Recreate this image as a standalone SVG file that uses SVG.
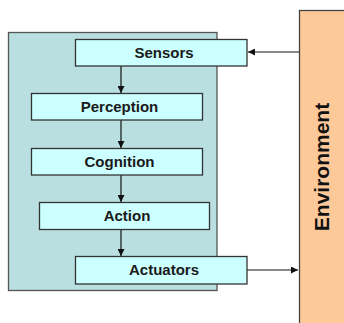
<svg xmlns="http://www.w3.org/2000/svg" width="344" height="323" viewBox="0 0 344 323">
<defs>
<style>
.node rect{fill:#ccffff;stroke:#333;stroke-width:1.3}
.node text{font-family:"Liberation Sans",Arial,sans-serif;font-weight:bold;font-size:15px;fill:#1a1a1a;text-anchor:middle}
.conn line{stroke:#111;stroke-width:1.2;fill:none}
</style>
<marker id="ah" viewBox="0 0 10 10" refX="10" refY="5" markerWidth="7" markerHeight="7" markerUnits="userSpaceOnUse" orient="auto">
<path d="M0,0 L10,5 L0,10 z" fill="#111"/>
</marker>
</defs>
<rect width="344" height="323" fill="#fff"/>
<g id="agent"><rect x="8.5" y="32.5" width="208.5" height="258" fill="#b9dfe0" stroke="#555" stroke-width="1.3"/></g>
<g id="environment">
<rect x="299.5" y="10.5" width="50" height="320" fill="#fdc999" stroke="#444" stroke-width="1.3"/>
<text transform="translate(329,167) rotate(-90)" font-family="'Liberation Sans',Arial,sans-serif" font-weight="bold" font-size="21" text-anchor="middle" fill="#111">Environment</text>
</g>
<g class="conn" id="connectors">
<line x1="121" y1="66" x2="121" y2="93" marker-end="url(#ah)"/>
<line x1="121" y1="120" x2="121" y2="148" marker-end="url(#ah)"/>
<line x1="121" y1="175" x2="121" y2="202" marker-end="url(#ah)"/>
<line x1="121" y1="230" x2="121" y2="256" marker-end="url(#ah)"/>
<line x1="299" y1="52" x2="248" y2="52" marker-end="url(#ah)"/>
<line x1="247" y1="270" x2="298" y2="270" marker-end="url(#ah)"/>
</g>
<g class="node" id="sensors"><rect x="75.5" y="39.5" width="171.5" height="26.5"/><text x="164" y="58">Sensors</text></g>
<g class="node" id="perception"><rect x="31.5" y="93.5" width="171" height="26.5"/><text x="119.5" y="112">Perception</text></g>
<g class="node" id="cognition"><rect x="31.5" y="148.5" width="171" height="26.5"/><text x="119.5" y="167">Cognition</text></g>
<g class="node" id="action"><rect x="39.5" y="202.5" width="170" height="27"/><text x="127" y="221">Action</text></g>
<g class="node" id="actuators"><rect x="75.5" y="256.5" width="171.5" height="27.5"/><text x="164" y="275">Actuators</text></g>
</svg>
